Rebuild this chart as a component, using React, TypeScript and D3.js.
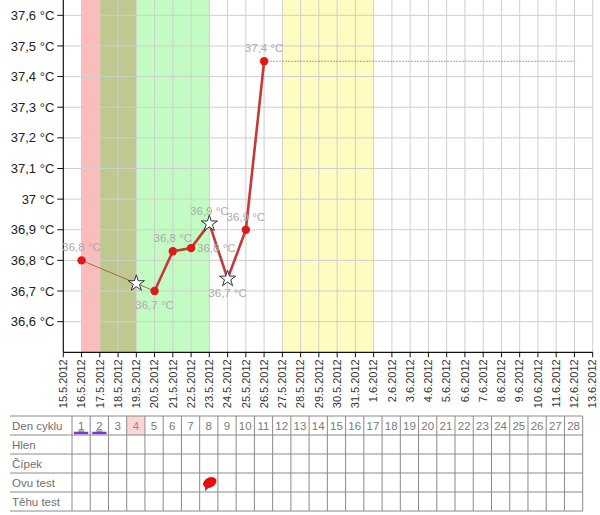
import * as d3 from 'd3';

// ── Data ────────────────────────────────────────────────
const AXIS_START = '2012-05-15';
const AXIS_END = '2012-06-13';

const DATES = ['2012-05-16', '2012-05-19', '2012-05-20', '2012-05-21', '2012-05-22', '2012-05-23', '2012-05-24', '2012-05-25', '2012-05-26'];
const TEMPS = [36.8, 36.725, 36.7, 36.83, 36.84, 36.92, 36.74, 36.9, 37.45];
const MARKERS = ['dot', 'star', 'dot', 'dot', 'dot', 'star', 'star', 'dot', 'dot'];
const SHOW_LABEL = [true, false, true, true, true, true, true, true, true];
const LABEL_SIDE = ['above', 'none', 'below', 'above', 'right', 'above', 'below', 'above', 'above'];
// segment i joins point i and i+1
const SEGMENTS = ['thin', 'thin', 'thick', 'thick', 'thick', 'thick', 'thick', 'thick'];

const PROJECTION_END = '2012-06-12';

const BAND_FROM = ['2012-05-16', '2012-05-17', '2012-05-19', '2012-05-27'];
const BAND_TO = ['2012-05-17', '2012-05-19', '2012-05-23', '2012-06-01'];
const BAND_PHASE = ['menses', 'spotting', 'fertile', 'luteal'];

const Y_TICKS = [36.6, 36.7, 36.8, 36.9, 37.0, 37.1, 37.2, 37.3, 37.4, 37.5, 37.6];

const CYCLE_DAYS = d3.range(1, 29);
const TABLE_ROWS = ['Den cyklu', 'Hlen', 'Čípek', 'Ovu test', 'Těhu test'];
const PERIOD_DAYS = [1, 2];
const MARKED_DAY = 4;
const OVU_DAYS = [8];

// ── Styles ──────────────────────────────────────────────
const PHASE_COLORS: Record<string, string> = {
  menses: '#fcbcbc',
  spotting: '#bfc98f',
  fertile: '#c2fcc2',
  luteal: '#fefcc0',
};

const FONT = '"Liberation Sans", Arial, sans-serif';
const GRID = '#cfcfcf';

const PLOT_L = 63.3;
const PLOT_R = 592.7;
const PLOT_B = 352.3;

const TABLE_L = 10;
const TABLE_X0 = 72;
const TABLE_X1 = 582.7;
const TABLE_TOP = 416;
const ROW_H = 19;

const day = (s: string) => new Date(s + 'T00:00:00Z');

export default function App() {
  const x = d3.scaleUtc().domain([day(AXIS_START), day(AXIS_END)]).range([PLOT_L, PLOT_R]);
  const y = d3.scaleLinear().domain([36.5, 37.65]).range([PLOT_B, 0]);

  const dayTicks = d3.utcDay.range(day(AXIS_START), d3.utcDay.offset(day(AXIS_END), 1));
  const fmt = d3.utcFormat('%-d.%-m.%Y');

  const pts = DATES.map((d, i) => ({ x: x(day(d)), y: y(TEMPS[i]), v: TEMPS[i], i }));
  const line = d3.line<{ x: number; y: number }>().x(p => p.x).y(p => p.y);

  const star = d3.symbol(d3.symbolStar, 82)();
  const last = pts[pts.length - 1];

  const label = (v: number) => (Math.floor(v * 10 + 1e-6) / 10).toFixed(1).replace('.', ',') + ' °C';

  const col = d3.scaleBand<number>().domain(CYCLE_DAYS).range([TABLE_X0, TABLE_X1]);

  return (
    <svg width={600} height={515} style={{ position: 'absolute', left: 0, top: 0, background: '#fff' }} fontFamily={FONT}>
      {/* bands */}
      {BAND_FROM.map((f, i) => (
        <rect key={f} x={x(day(f))} y={0} width={x(day(BAND_TO[i])) - x(day(f))} height={PLOT_B}
          fill={PHASE_COLORS[BAND_PHASE[i]]} />
      ))}

      {/* grid */}
      {dayTicks.slice(1).map(t => (
        <line key={+t} x1={x(t)} x2={x(t)} y1={0} y2={PLOT_B} stroke={GRID} strokeWidth={1} />
      ))}
      {Y_TICKS.map(t => (
        <line key={t} x1={PLOT_L} x2={PLOT_R} y1={y(t)} y2={y(t)} stroke={GRID} strokeWidth={1} />
      ))}

      {/* y axis */}
      <line x1={PLOT_L} x2={PLOT_L} y1={0} y2={PLOT_B} stroke="#111" strokeWidth={1.2} />
      {Y_TICKS.map(t => (
        <g key={t} transform={`translate(0,${y(t)})`}>
          <line x1={PLOT_L - 6} x2={PLOT_L} stroke="#111" strokeWidth={1} />
          <text x={PLOT_L - 9} dy="0.35em" textAnchor="end" fontSize={13} fill="#222">
            {(t === 37 ? '37' : t.toFixed(1).replace('.', ',')) + ' °C'}
          </text>
        </g>
      ))}

      {/* x axis */}
      <line x1={PLOT_L} x2={PLOT_R} y1={PLOT_B} y2={PLOT_B} stroke="#111" strokeWidth={1.2} />
      {dayTicks.map(t => (
        <g key={+t} transform={`translate(${x(t)},${PLOT_B})`}>
          <line y1={0} y2={5} stroke="#111" strokeWidth={1} />
          <text transform="translate(0,7) rotate(-90)" dy="0.34em" textAnchor="end" fontSize={11} fill="#333">
            {fmt(t)}
          </text>
        </g>
      ))}

      {/* projection line */}
      <line x1={last.x} x2={x(day(PROJECTION_END))} y1={last.y} y2={last.y}
        stroke="#d86868" strokeOpacity={0.8} strokeWidth={1.2} strokeDasharray="2,1" />

      {/* temperature line */}
      {SEGMENTS.map((s, i) => (
        <path key={i} d={line([pts[i], pts[i + 1]]) ?? ''} fill="none"
          stroke={s === 'thick' ? '#c23a3a' : '#9a5a3e'}
          strokeOpacity={s === 'thick' ? 1 : 0.85}
          strokeWidth={s === 'thick' ? 2.6 : 1} />
      ))}

      {/* markers */}
      {pts.map(p => MARKERS[p.i] === 'star'
        ? <path key={p.i} d={star ?? ''} transform={`translate(${p.x},${p.y})`} fill="#fff" stroke="#333" strokeWidth={1} />
        : <circle key={p.i} cx={p.x} cy={p.y} r={4.2} fill="#e01818" />
      )}

      {/* value labels */}
      {pts.filter(p => SHOW_LABEL[p.i]).map(p => {
        const side = LABEL_SIDE[p.i];
        const lx = side === 'right' ? p.x + 6 : p.x;
        const ly = side === 'above' ? p.y - 13 : side === 'below' ? p.y + 14 : p.y;
        return (
          <text key={p.i} x={lx} y={ly} dy="0.35em" textAnchor={side === 'right' ? 'start' : 'middle'}
            fontSize={11.5} fill="#ababab">
            {label(p.v)}
          </text>
        );
      })}

      {/* cycle table */}
      <rect x={col(MARKED_DAY)} y={TABLE_TOP} width={col.bandwidth()} height={ROW_H} fill="#fad6d6" />
      {d3.range(TABLE_ROWS.length + 1).map(r => (
        <line key={r} x1={TABLE_L} x2={TABLE_X1} y1={TABLE_TOP + r * ROW_H} y2={TABLE_TOP + r * ROW_H}
          stroke="#8a8a8a" strokeWidth={1} />
      ))}
      {[TABLE_X0, ...CYCLE_DAYS.map(d => (col(d) ?? 0) + col.bandwidth())].map((cx, i) => (
        <line key={i} x1={cx} x2={cx} y1={TABLE_TOP} y2={TABLE_TOP + TABLE_ROWS.length * ROW_H}
          stroke="#8a8a8a" strokeWidth={1} />
      ))}
      {TABLE_ROWS.map((r, i) => (
        <text key={r} x={TABLE_L + 2} y={TABLE_TOP + i * ROW_H + ROW_H / 2} dy="0.35em" fontSize={11.5} fill="#707070">
          {r}
        </text>
      ))}
      {CYCLE_DAYS.map(d => {
        const cx = (col(d) ?? 0) + col.bandwidth() / 2;
        const period = PERIOD_DAYS.includes(d);
        return (
          <g key={d}>
            <text x={cx} y={TABLE_TOP + ROW_H / 2} dy="0.35em" textAnchor="middle" fontSize={11.5}
              fill={d === MARKED_DAY ? '#b08080' : '#7a7a7a'} textDecoration={period ? 'underline' : undefined}>
              {d}
            </text>
            {period && (
              <line x1={(col(d) ?? 0) + 2} x2={(col(d) ?? 0) + col.bandwidth() - 2}
                y1={TABLE_TOP + ROW_H - 2} y2={TABLE_TOP + ROW_H - 2} stroke="#7a38d8" strokeWidth={2.5} />
            )}
          </g>
        );
      })}
      {OVU_DAYS.map(d => {
        const cx = (col(d) ?? 0) + col.bandwidth() / 2;
        const cy = TABLE_TOP + 3 * ROW_H + ROW_H / 2;
        return (
          <g key={d} transform={`translate(${cx + 1},${cy}) rotate(-25)`}>
            <ellipse rx={7} ry={5} fill="#e80c0c" />
            <path d="M-6,2 L-8,6 L-3,4 Z" fill="#e80c0c" />
          </g>
        );
      })}
    </svg>
  );
}
